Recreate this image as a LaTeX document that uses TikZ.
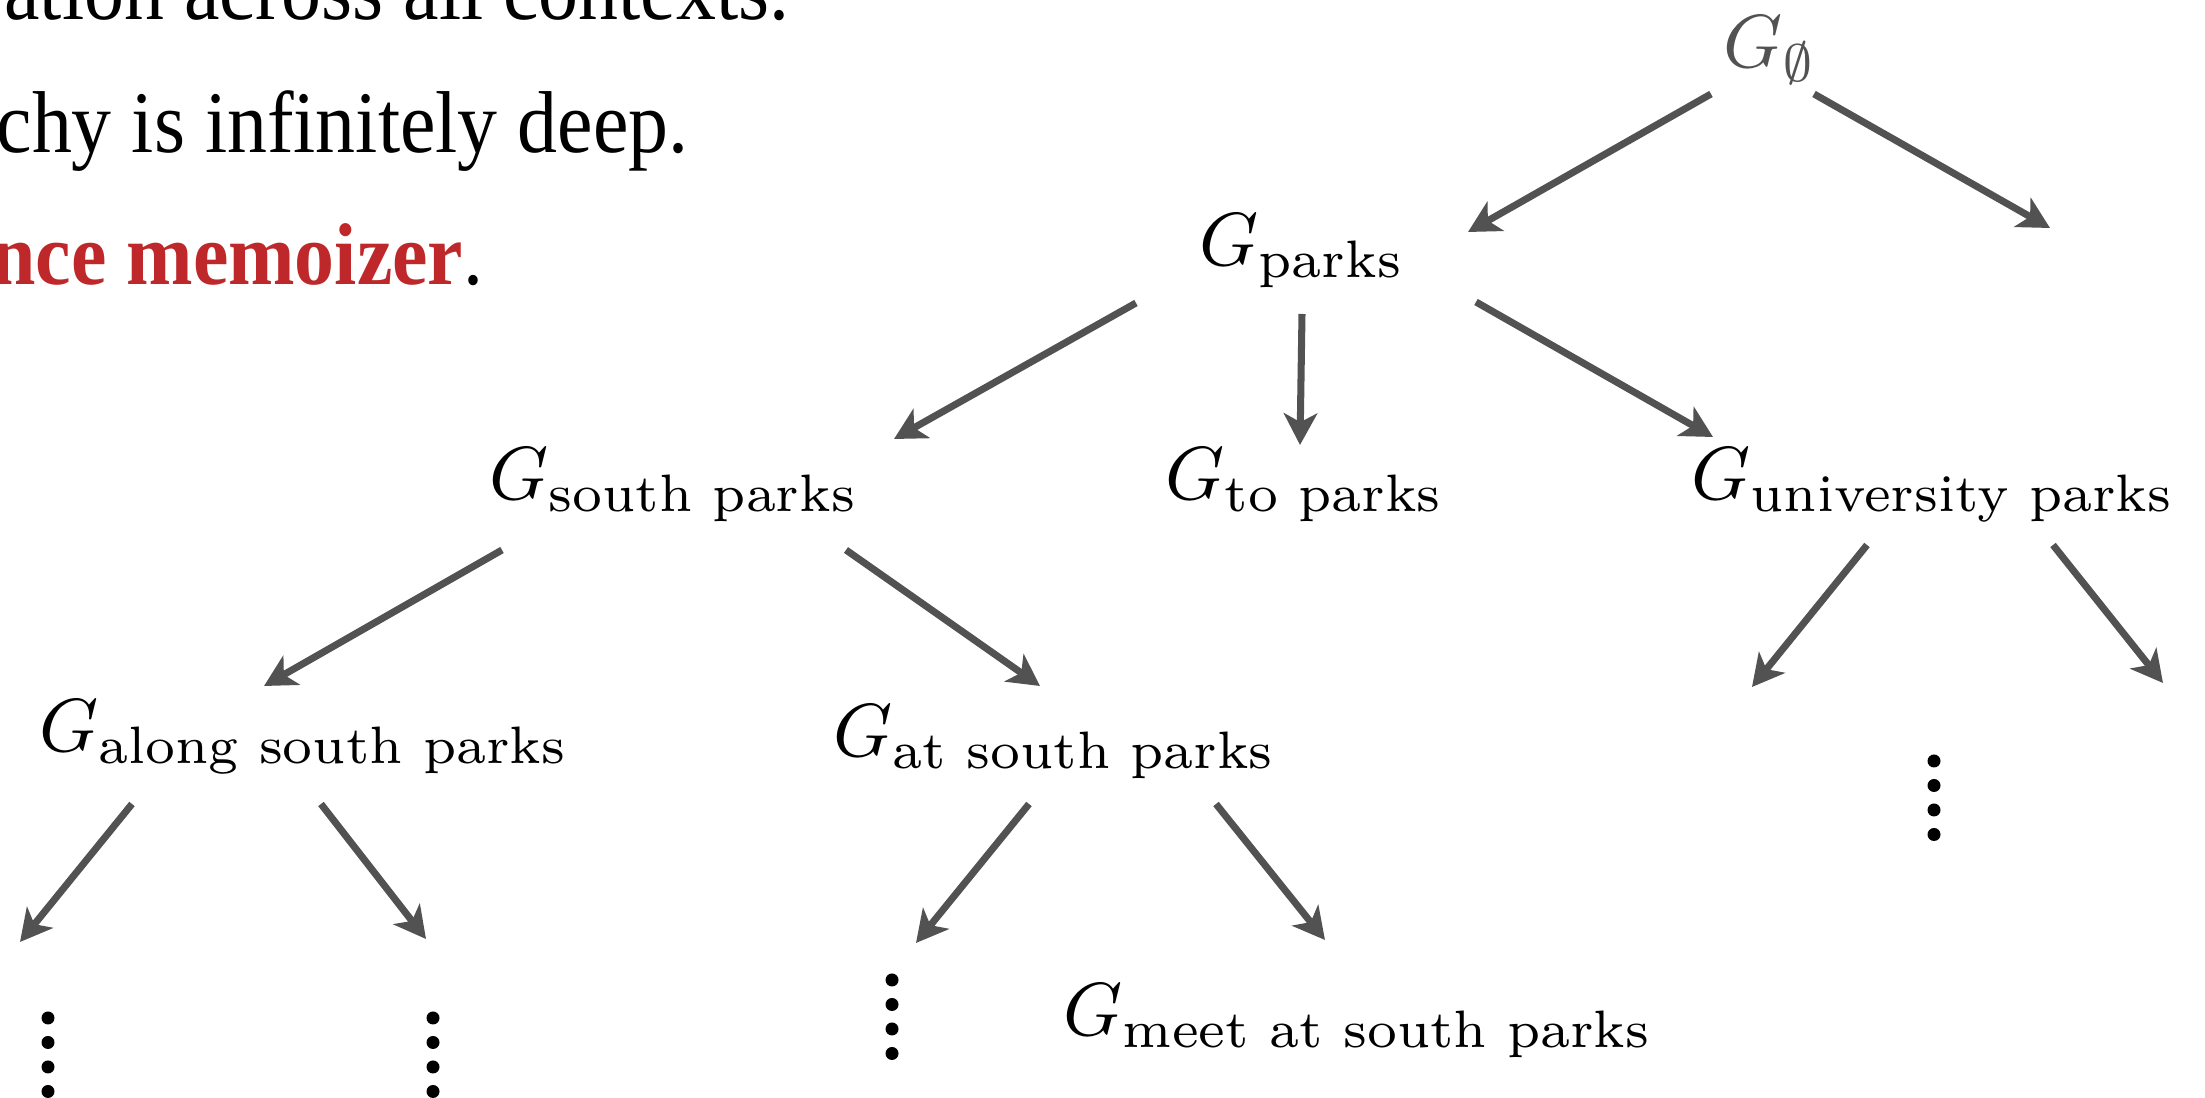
\documentclass[tikz,border=0pt]{standalone}
\usepackage{amsmath}
\usepackage{fontspec}
\newfontfamily\slidefont{Liberation Serif}
\usetikzlibrary{arrows.meta}
\definecolor{arrgray}{RGB}{82,82,82}
\definecolor{memored}{RGB}{190,40,42}

\begin{document}
\begin{tikzpicture}[x=0.01cm,y=-0.01cm,>={Stealth[length=9pt,width=9.5pt,inset=2.5pt]}]
	\tikzset{ctx/.style={anchor=base west,inner sep=0,scale=2.14},
		arr/.style={->,draw=arrgray,line width=2pt},
		slide/.style={anchor=base east,inner sep=0,yscale=1.1,font=\slidefont\fontsize{22.7}{27}\selectfont}
	}
	\useasboundingbox (0,0) rectangle (2205,1098);
	\clip (0,0) rectangle (2205,1098);
	% slide text, cut at the left border
	\node[slide] (line1) at (790,20) {ation across all contexts.};
	\node[slide] (line2) at (689,153) {chy is infinitely deep.};
	\node[slide] (line3) at (484,285) {\textcolor{memored}{\bfseries nce memoizer}.};
	% context tree
	\node[ctx,text=arrgray] (gempty) at (1722,68) {$G_\emptyset$};
	\node[ctx] (gparks) at (1198,266) {$G_{\text{parks}}$};
	\node[ctx] (gsouth) at (488,500) {$G_{\text{south parks}}$};
	\node[ctx] (gto) at (1164,500) {$G_{\text{to parks}}$};
	\node[ctx] (guniv) at (1690,500) {$G_{\text{university parks}}$};
	\node[ctx] (galong) at (38,752) {$G_{\text{along south parks}}$};
	\node[ctx] (gat) at (832,757) {$G_{\text{at south parks}}$};
	\node[ctx] (gmeet) at (1062,1036) {$G_{\text{meet at south parks}}$};
	\coordinate (eright) at (2050,228);
	\coordinate (uleft) at (1752,687);
	\coordinate (uright) at (2163,683);
	\coordinate (aleft) at (20,942);
	\coordinate (aright) at (426,939);
	\coordinate (tleft) at (916,943);
	\draw[arr] ([shift={(-11,26)}]gempty.base west)--([shift={(270,-34)}]gparks.base west);
	\draw[arr] ([shift={(92,26)}]gempty.base west)--(eright);
	\draw[arr] ([shift={(-62,37)}]gparks.base west)--([shift={(406,-61)}]gsouth.base west);
	\draw[arr] ([shift={(104,48)}]gparks.base west)--([shift={(136,-55)}]gto.base west);
	\draw[arr] ([shift={(278,36)}]gparks.base west)--([shift={(23,-63)}]guniv.base west);
	\draw[arr] ([shift={(14,50)}]gsouth.base west)--([shift={(226,-66)}]galong.base west);
	\draw[arr] ([shift={(358,50)}]gsouth.base west)--([shift={(208,-71)}]gat.base west);
	\draw[arr] ([shift={(177,45)}]guniv.base west)--(uleft);
	\draw[arr] ([shift={(363,45)}]guniv.base west)--(uright);
	\draw[arr] ([shift={(94,52)}]galong.base west)--(aleft);
	\draw[arr] ([shift={(283,52)}]galong.base west)--(aright);
	\draw[arr] ([shift={(197,47)}]gat.base west)--(tleft);
	\draw[arr] ([shift={(384,47)}]gat.base west)--([shift={(263,-96)}]gmeet.base west);
	% dots below the open branches
	\foreach \x/\y in {48/1018,433/1018,892/980,1934/761}
		\foreach \k in {0,...,3} \fill (\x,{\y+24.5*\k}) circle (6.5);
\end{tikzpicture}
\end{document}
